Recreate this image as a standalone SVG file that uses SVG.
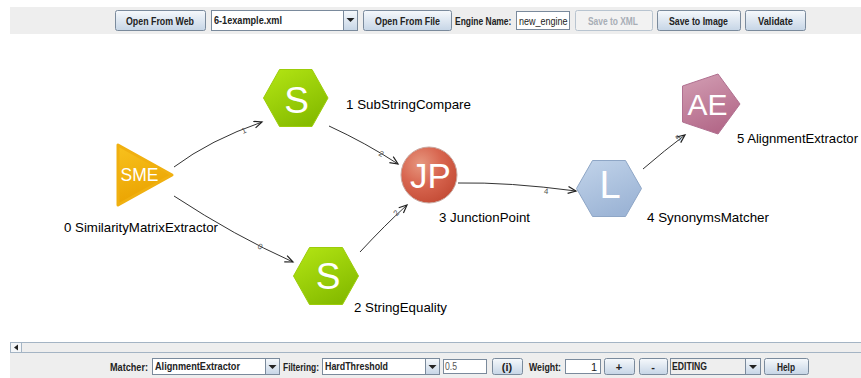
<svg xmlns="http://www.w3.org/2000/svg" width="861" height="378" viewBox="0 0 861 378">
<style>
.btn{fill:url(#gBtn);stroke:#7a8a9c;stroke-width:1}
.btnd{fill:#f2f2f2;stroke:#b8c4d0;stroke-width:1}
.fld{fill:#ffffff;stroke:#7a8a9c;stroke-width:1}
.tb{font-family:"Liberation Sans",Arial,sans-serif;font-weight:bold;font-size:11px;fill:#222}
.tn{font-family:"Liberation Sans",Arial,sans-serif;font-size:11px;fill:#222}
.nl{font-family:"Liberation Sans",Arial,sans-serif;font-size:13.5px;fill:#000}
.ni{font-family:"Liberation Sans",Arial,sans-serif;fill:#ffffff;text-anchor:middle}
.edge{fill:none;stroke:#333;stroke-width:1;marker-end:url(#arr)}
.el{font-family:"Liberation Sans",Arial,sans-serif;font-size:8px;fill:#555;text-anchor:middle}
</style>
<defs>
<linearGradient id="gBtn" x1="0" y1="0" x2="0" y2="1"><stop offset="0" stop-color="#f6f9fc"/><stop offset="1" stop-color="#c6d5e6"/></linearGradient>
<linearGradient id="gTop" x1="0" y1="0" x2="1" y2="0"><stop offset="0" stop-color="#999"/><stop offset="0.85" stop-color="#aaa"/><stop offset="1" stop-color="#eee"/></linearGradient>
<linearGradient id="gGreen" x1="0" y1="0" x2="0.6" y2="1"><stop offset="0" stop-color="#b4e614"/><stop offset="1" stop-color="#86bc00"/></linearGradient>
<linearGradient id="gBlue" x1="0" y1="0" x2="0.5" y2="1"><stop offset="0" stop-color="#c2d4ea"/><stop offset="1" stop-color="#9db5d6"/></linearGradient>
<linearGradient id="gPink" x1="0" y1="0" x2="0.4" y2="1"><stop offset="0" stop-color="#d39fb4"/><stop offset="1" stop-color="#b46a8a"/></linearGradient>
<linearGradient id="gOrange" x1="0" y1="0" x2="0.3" y2="1"><stop offset="0" stop-color="#f8c21e"/><stop offset="1" stop-color="#eaa200"/></linearGradient>
<radialGradient id="gRed" cx="0.35" cy="0.3" r="0.75"><stop offset="0" stop-color="#e6977f"/><stop offset="0.5" stop-color="#d86650"/><stop offset="1" stop-color="#c44c36"/></radialGradient>
<marker id="arr" markerWidth="12" markerHeight="10" refX="9" refY="4" orient="auto" markerUnits="userSpaceOnUse"><path d="M1,0.5 L9,4 L1,7.5" fill="none" stroke="#222" stroke-width="1.2"/></marker>
</defs>
<rect width="861" height="378" fill="#ffffff"/>

<g id="toolbar-top">
<rect x="10" y="7" width="851" height="27" fill="#eeeeee"/>
<line x1="6" y1="6.5" x2="820" y2="6.5" stroke="url(#gTop)" stroke-width="1.5"/>
<rect class="btn" x="115.5" y="10.5" width="90" height="20" rx="2"/>
<text class="tb" x="126" y="25" textLength="68" lengthAdjust="spacingAndGlyphs">Open From Web</text>
<rect class="fld" x="211.5" y="10.5" width="146" height="20"/>
<rect class="btn" x="343.5" y="10.5" width="14" height="20"/>
<path d="M346.5,18 L354.5,18 L350.5,22 Z" fill="#222"/>
<text class="tb" x="214" y="24" textLength="68" lengthAdjust="spacingAndGlyphs">6-1example.xml</text>
<rect class="btn" x="363.5" y="10.5" width="88" height="20" rx="2"/>
<text class="tb" x="375" y="25" textLength="65" lengthAdjust="spacingAndGlyphs">Open From File</text>
<text class="tb" transform="translate(455,25) scale(0.77,1)">Engine Name:</text>
<rect class="fld" x="516.5" y="11.5" width="53" height="18"/>
<text class="tn" transform="translate(519,25) scale(0.82,1)">new_engine</text>
<rect class="btnd" x="575.5" y="10.5" width="77" height="20" rx="2"/>
<text class="tb" x="588" y="25" textLength="50" lengthAdjust="spacingAndGlyphs" style="fill:#a8aeb6">Save to XML</text>
<rect class="btn" x="657.5" y="10.5" width="83" height="20" rx="2"/>
<text class="tb" x="669" y="25" textLength="59" lengthAdjust="spacingAndGlyphs">Save to Image</text>
<rect class="btn" x="745.5" y="10.5" width="60" height="20" rx="2"/>
<text class="tb" x="758" y="25" textLength="35" lengthAdjust="spacingAndGlyphs">Validate</text>
</g>

<g id="connectors">
<path id="e01" class="edge" d="M174,167 Q210,140 262,122"/>
<path id="e02" class="edge" d="M174,196 Q235,236 293,262"/>
<path id="e13" class="edge" d="M329,126 Q366,143 398,164"/>
<path id="e23" class="edge" d="M360,252 Q385,225 407,205"/>
<path id="e34" class="edge" d="M458,183 Q508,182 576,191"/>
<path id="e45" class="edge" d="M643,169 Q665,150 685,135"/>
<text class="el" transform="translate(245,133) rotate(-25)">1</text>
<text class="el" transform="translate(259,249) rotate(25)">0</text>
<text class="el" transform="translate(380,156) rotate(29)">2</text>
<text class="el" transform="translate(398,215) rotate(-45)">2</text>
<text class="el" transform="translate(546,194) rotate(5)">4</text>
<text class="el" transform="translate(680,140) rotate(-39)">5</text>
</g>

<g id="node0">
<path d="M118,145 L118,205 L172,175 Z" fill="url(#gOrange)" stroke="#f0b010" stroke-width="3" stroke-linejoin="round"/>
<text class="ni" x="139.5" y="181" font-size="17.5">SME</text>
<text class="nl" x="64" y="232" textLength="154" lengthAdjust="spacingAndGlyphs">0 SimilarityMatrixExtractor</text>
</g>

<g id="node1">
<path d="M263.5,98 L279.5,69.5 L312,69.5 L328,98 L312,126.5 L279.5,126.5 Z" fill="url(#gGreen)" stroke="#9ccc0a" stroke-width="1" stroke-linejoin="round"/>
<text class="ni" x="296.5" y="113" font-size="37">S</text>
<text class="nl" x="346" y="109" textLength="125" lengthAdjust="spacingAndGlyphs">1 SubStringCompare</text>
</g>

<g id="node2">
<path d="M293.5,276 L309.5,247.5 L342.5,247.5 L358.5,276 L342.5,304.5 L309.5,304.5 Z" fill="url(#gGreen)" stroke="#9ccc0a" stroke-width="1" stroke-linejoin="round"/>
<text class="ni" x="328" y="289" font-size="37">S</text>
<text class="nl" x="354" y="312" textLength="93" lengthAdjust="spacingAndGlyphs">2 StringEquality</text>
</g>

<g id="node3">
<circle cx="429" cy="175" r="28" fill="url(#gRed)" stroke="#c8a8a0" stroke-width="1"/>
<text class="ni" x="430.5" y="188" font-size="35">JP</text>
<text class="nl" x="439" y="222" textLength="91" lengthAdjust="spacingAndGlyphs">3 JunctionPoint</text>
</g>

<g id="node4">
<path d="M576.5,188.5 L592.5,160.5 L625.5,160.5 L641.5,188.5 L625.5,216.5 L592.5,216.5 Z" fill="url(#gBlue)" stroke="#8ea6c6" stroke-width="1" stroke-linejoin="round"/>
<text class="ni" x="610" y="198" font-size="38">L</text>
<text class="nl" x="647" y="222" textLength="122" lengthAdjust="spacingAndGlyphs">4 SynonymsMatcher</text>
</g>

<g id="node5">
<path d="M740,104 L718,74 L682.5,86 L682.5,122 L718,134 Z" fill="url(#gPink)" stroke="#b07090" stroke-width="1" stroke-linejoin="round"/>
<text class="ni" x="707.5" y="115" font-size="30">AE</text>
<text class="nl" x="737" y="143" textLength="121" lengthAdjust="spacingAndGlyphs">5 AlignmentExtractor</text>
</g>

<g id="toolbar-bottom">
<rect x="10" y="342" width="851" height="11" fill="#eeeeee"/>
<line x1="10" y1="342.5" x2="861" y2="342.5" stroke="#a4b4c4"/>
<line x1="10" y1="352.5" x2="861" y2="352.5" stroke="#a4b4c4"/>
<rect x="10.5" y="342.5" width="11" height="10" fill="#f4f6f8" stroke="#a4b4c4"/>
<path d="M14,347.5 L18,344.5 L18,350.5 Z" fill="#222"/>
<rect x="10" y="353" width="851" height="25" fill="#eeeeee"/>
<text class="tb" x="110" y="371" textLength="38" lengthAdjust="spacingAndGlyphs">Matcher:</text>
<rect class="fld" x="152.5" y="358.5" width="127" height="16"/>
<rect class="btn" x="265.5" y="358.5" width="14" height="16"/>
<path d="M268.5,365 L276.5,365 L272.5,369 Z" fill="#222"/>
<text class="tb" x="155" y="370" textLength="85" lengthAdjust="spacingAndGlyphs">AlignmentExtractor</text>
<text class="tb" x="283" y="371" textLength="36" lengthAdjust="spacingAndGlyphs">Filtering:</text>
<rect class="fld" x="322.5" y="358.5" width="117" height="16"/>
<rect class="btn" x="425.5" y="358.5" width="14" height="16"/>
<path d="M428.5,365 L436.5,365 L432.5,369 Z" fill="#222"/>
<text class="tb" x="325" y="370" textLength="63" lengthAdjust="spacingAndGlyphs">HardThreshold</text>
<rect class="fld" x="443.5" y="359.5" width="43" height="14"/>
<text class="tn" x="445" y="370" textLength="12" lengthAdjust="spacingAndGlyphs" style="fill:#555">0.5</text>
<rect class="btn" x="492.5" y="358.5" width="30" height="16" rx="2"/>
<text class="tb" x="507" y="370.5" text-anchor="middle">(i)</text>
<text class="tb" x="529" y="371" textLength="32" lengthAdjust="spacingAndGlyphs">Weight:</text>
<rect class="fld" x="565.5" y="359.5" width="35" height="14"/>
<text class="tn" x="597" y="370.5" text-anchor="end">1</text>
<rect class="btn" x="604.5" y="358.5" width="30" height="16" rx="2"/>
<text class="tb" x="619" y="370.5" text-anchor="middle">+</text>
<rect class="btn" x="639.5" y="358.5" width="28" height="16" rx="2"/>
<text class="tb" x="653" y="370.5" text-anchor="middle">-</text>
<rect x="670.5" y="358.5" width="90" height="16" fill="#eeeeee" stroke="#7a8a9c"/>
<rect class="btn" x="745.5" y="358.5" width="15" height="16"/>
<path d="M749,365 L757,365 L753,369 Z" fill="#222"/>
<text class="tb" x="672" y="370" textLength="35" lengthAdjust="spacingAndGlyphs">EDITING</text>
<rect class="btn" x="764.5" y="358.5" width="44" height="16" rx="2"/>
<text class="tb" x="777" y="371" textLength="18" lengthAdjust="spacingAndGlyphs">Help</text>
</g>
</svg>
